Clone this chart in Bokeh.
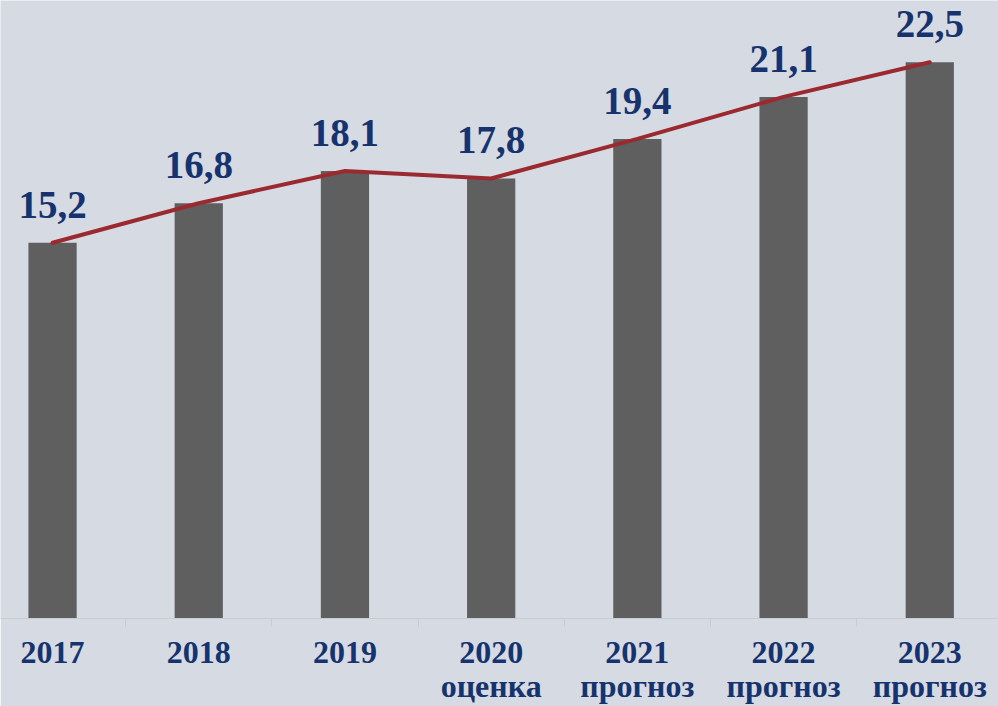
from bokeh.plotting import figure
from bokeh.models import Range1d, FixedTicker, ColumnDataSource
from bokeh.core.properties import value
from bokeh.embed import file_html
from bokeh.resources import INLINE

years = ["2017", "2018", "2019", "2020", "2021", "2022", "2023"]
notes = ["", "", "", "оценка", "прогноз", "прогноз", "прогноз"]
values = [15.2, 16.8, 18.1, 17.8, 19.4, 21.1, 22.5]
value_labels = ["15,2", "16,8", "18,1", "17,8", "19,4", "21,1", "22,5"]

BG = "#d6dbe3"
BAR = "#5f5f5f"
LINE = "#9b2a30"
TXT = "#17336e"
FONT = "Liberation Serif"

xs = list(range(len(years)))
src = ColumnDataSource(dict(x=xs, top=values, lab=value_labels))

p = figure(width=998, height=706, output_backend="svg", toolbar_location=None,
           x_range=Range1d(-0.356, 6.470), y_range=Range1d(0, 25.0),
           min_border_left=0, min_border_right=0, min_border_top=0, min_border_bottom=88)
p.background_fill_color = BG
p.border_fill_color = BG
p.outline_line_color = None
p.grid.visible = False
p.yaxis.visible = False

p.vbar(x="x", top="top", width=0.33, bottom=0, source=src, fill_color=BAR, line_color=None)
p.line(x="x", y="top", source=src, line_color=LINE, line_width=4, line_cap="round")
p.text(x="x", y="top", text="lab", source=src, text_align="center", text_baseline="alphabetic",
       y_offset=-38, text_font=value(FONT), text_font_style="bold", text_font_size="39px",
       text_color=TXT)

ax = p.xaxis[0]
ax.ticker = FixedTicker(ticks=xs, minor_ticks=[i + 0.5 for i in xs[:-1]])
ax.major_label_overrides = {i: (y if not n else y + "\n" + n) for i, (y, n) in enumerate(zip(years, notes))}
ax.major_tick_line_color = None
ax.major_tick_in = 0
ax.major_tick_out = 0
ax.minor_tick_in = 0
ax.minor_tick_out = 8
ax.minor_tick_line_color = "#c8ccd3"
ax.axis_line_color = "#c8ccd3"
ax.major_label_standoff = 7
ax.major_label_text_font = FONT
ax.major_label_text_font_style = "bold"
ax.major_label_text_font_size = "32px"
ax.major_label_text_color = TXT
ax.major_label_text_line_height = 0.95

open("out.html", "w").write(file_html(p, INLINE))
